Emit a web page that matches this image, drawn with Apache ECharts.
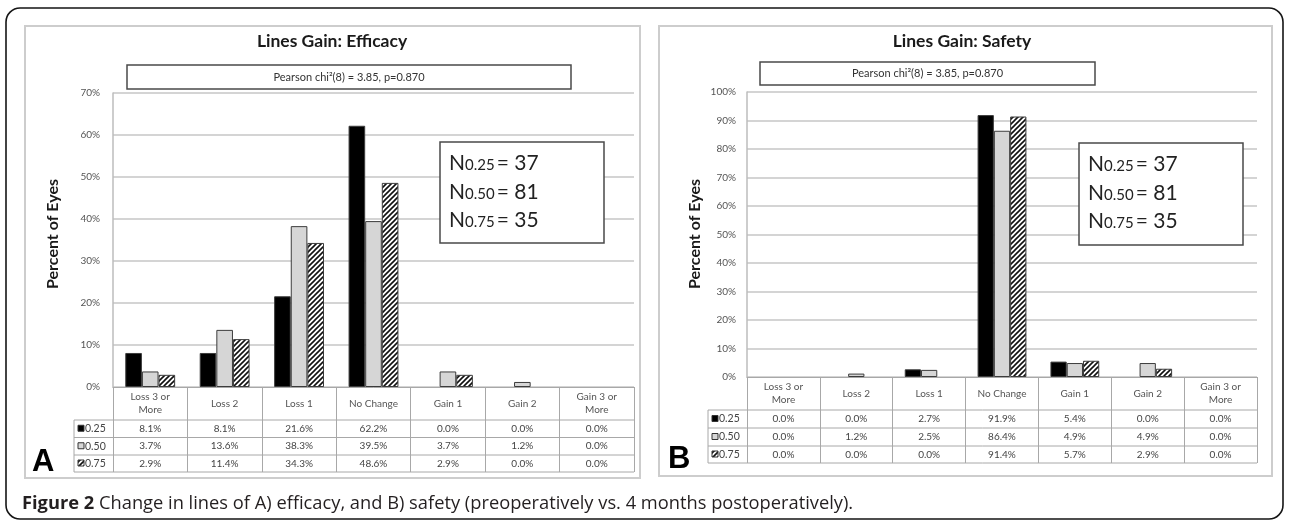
<!DOCTYPE html>
<html><head><meta charset="utf-8">
<script src="https://cdn.jsdelivr.net/npm/echarts@6/dist/echarts.min.js"></script>
<style>html,body{margin:0;padding:0;background:#fff;}#c{width:1289px;height:522px;}</style>
</head><body><div id="c"></div>
<script>
// ---------- data ----------
const categories = ['Loss 3 or\nMore', 'Loss 2', 'Loss 1', 'No Change', 'Gain 1', 'Gain 2', 'Gain 3 or\nMore'];
const groups = ['0.25', '0.50', '0.75'];
const efficacy025 = [8.1, 8.1, 21.6, 62.2, 0.0, 0.0, 0.0];
const efficacy050 = [3.7, 13.6, 38.3, 39.5, 3.7, 1.2, 0.0];
const efficacy075 = [2.9, 11.4, 34.3, 48.6, 2.9, 0.0, 0.0];
const safety025 = [0.0, 0.0, 2.7, 91.9, 5.4, 0.0, 0.0];
const safety050 = [0.0, 1.2, 2.5, 86.4, 4.9, 4.9, 0.0];
const safety075 = [0.0, 0.0, 0.0, 91.4, 5.7, 2.9, 0.0];
const efficacyAxisMax = 70;
const safetyAxisMax = 100;
const axisStep = 10;
const sampleSizes = [37, 81, 35];
const chartTitles = ['Lines Gain: Efficacy', 'Lines Gain: Safety'];
const statText = 'Pearson chi\u00b2(8) = 3.85, p=0.870';
const yAxisTitle = 'Percent of Eyes';
const panelLetters = ['A', 'B'];
const captionBold = 'Figure 2';
const captionText = ' Change in lines of A) efficacy, and B) safety (preoperatively vs. 4 months postoperatively).';

// ---------- layout ----------
const FONT = 'Lato, "Open Sans", sans-serif';
const CAPFONT = '"Open Sans", "Noto Sans", sans-serif';
const panels = [
  { grid: { left: 113, top: 93, width: 521, height: 294 }, box: [25, 26, 615, 452], titleX: 332,
    stat: [127, 65, 444, 24], nbox: [440, 142, 164, 101], rowLeft: 74, rows: [420, 437.5, 455, 472],
    yTitleX: 53, letter: [32, 447] },
  { grid: { left: 747, top: 92, width: 510, height: 285 }, box: [659, 26, 613, 450], titleX: 962,
    stat: [760, 62, 335, 23], nbox: [1079, 143, 164, 102], rowLeft: 708, rows: [410, 428, 446, 463],
    yTitleX: 695, letter: [668, 444] }
];
const datasets = [[efficacy025, efficacy050, efficacy075], [safety025, safety050, safety075]];
const maxes = [efficacyAxisMax, safetyAxisMax];

function hatchCanvas() {
  const s = 5, c = document.createElement('canvas');
  c.width = s; c.height = s;
  const g = c.getContext('2d');
  g.fillStyle = '#fff'; g.fillRect(0, 0, s, s);
  g.strokeStyle = '#111'; g.lineWidth = 1.6;
  g.beginPath();
  g.moveTo(-1, s + 1); g.lineTo(s + 1, -1);
  g.moveTo(-1, 1); g.lineTo(1, -1);
  g.moveTo(s - 1, s + 1); g.lineTo(s + 1, s - 1);
  g.stroke();
  return c;
}
const hatch = { image: hatchCanvas(), repeat: 'repeat' };
const fills = ['#000000', '#d6d6d6', hatch];

const chart = echarts.init(document.getElementById('c'), null, { renderer: 'canvas' });

const grids = [], xAxes = [], yAxes = [], series = [];
panels.forEach((p, k) => {
  grids.push(Object.assign({}, p.grid));
  const tickLen = p.rows[3] - (p.grid.top + p.grid.height);
  xAxes.push({
    gridIndex: k, type: 'category', data: categories,
    axisLine: { show: true, lineStyle: { color: '#a8a8a8', width: 1 } },
    axisTick: { show: true, interval: 0, length: tickLen, lineStyle: { color: '#a8a8a8', width: 1 } },
    axisLabel: { interval: 0, margin: 16.5, verticalAlign: 'middle', fontSize: 10, lineHeight: 13,
      color: '#555555', fontFamily: FONT },
    splitLine: { show: false }
  });
  yAxes.push({
    gridIndex: k, type: 'value', min: 0, max: maxes[k], interval: axisStep,
    axisLabel: { formatter: '{value}%', fontSize: 10, color: '#555555', margin: k === 0 ? 13 : 11, fontFamily: FONT },
    axisLine: { show: true, lineStyle: { color: '#bdbdbd', width: 1.5 } },
    axisTick: { show: false },
    splitLine: { show: true, lineStyle: { color: '#c6c6c6', width: 1.5 } }
  });
  datasets[k].forEach((vals, g) => {
    series.push({
      type: 'bar', name: groups[g], xAxisIndex: k, yAxisIndex: k,
      data: vals.map(v => v === 0 ? { value: v, itemStyle: { borderWidth: 0 } } : v),
      barGap: '0%', barCategoryGap: '33%', silent: true,
      itemStyle: { color: fills[g], borderColor: '#3c3c3c', borderWidth: 1 }
    });
  });
});

chart.setOption({
  animation: false,
  backgroundColor: '#ffffff',
  grid: grids, xAxis: xAxes, yAxis: yAxes, series: series
});

// ---------- annotation graphics ----------
const G = [];
// outer frame
G.push({ type: 'rect', shape: { x: 6, y: 8, width: 1277, height: 511, r: 14 },
  style: { fill: 'none', stroke: '#151515', lineWidth: 1.6 }, z: 1 });
panels.forEach((p, k) => {
  const gb = p.grid, right = gb.left + gb.width;
  G.push({ type: 'rect', shape: { x: p.box[0], y: p.box[1], width: p.box[2], height: p.box[3] },
    style: { fill: 'none', stroke: '#cdcdcd', lineWidth: 2 }, z: 1 });
  // title
  G.push({ type: 'text', x: p.titleX, y: 41, z: 10,
    style: { text: chartTitles[k], font: 'bold 17.5px ' + FONT, fill: '#1a1a1a', align: 'center', verticalAlign: 'middle' } });
  // stat box
  G.push({ type: 'rect', shape: { x: p.stat[0], y: p.stat[1], width: p.stat[2], height: p.stat[3] },
    style: { fill: '#fff', stroke: '#4a4a4a', lineWidth: 1.5 }, z: 10 });
  G.push({ type: 'text', x: p.stat[0] + p.stat[2] / 2, y: p.stat[1] + p.stat[3] / 2, z: 11,
    style: { text: statText, font: '11px ' + FONT, fill: '#333', align: 'center', verticalAlign: 'middle' } });
  // N box
  const nb = p.nbox;
  G.push({ type: 'rect', shape: { x: nb[0], y: nb[1], width: nb[2], height: nb[3] },
    style: { fill: '#fff', stroke: '#4a4a4a', lineWidth: 1.5 }, z: 10 });
  groups.forEach((gname, g) => {
    G.push({ type: 'text', x: nb[0] + 9, y: nb[1] + 20 + g * 28.5, z: 11,
      style: { text: '{n|N}{s|' + gname + '}{n|= ' + sampleSizes[g] + '}', align: 'left', verticalAlign: 'middle',
        rich: { n: { fontSize: 21, fontFamily: FONT, fill: '#222', verticalAlign: 'bottom', lineHeight: 24 },
                s: { fontSize: 15, fontFamily: FONT, fill: '#222', verticalAlign: 'bottom', lineHeight: 20, padding: [0, 2, 1, 0] } } } });
  });
  // y axis title
  G.push({ type: 'text', x: p.yTitleX, y: 234, rotation: Math.PI / 2, z: 10,
    style: { text: yAxisTitle, font: 'bold 16px ' + FONT, fill: '#1a1a1a', align: 'center', verticalAlign: 'middle' } });
  // table lines
  p.rows.forEach(y => {
    G.push({ type: 'line', shape: { x1: p.rowLeft, y1: y, x2: right, y2: y }, style: { stroke: '#a8a8a8', lineWidth: 1 }, z: 5 });
  });
  G.push({ type: 'line', shape: { x1: p.rowLeft, y1: p.rows[0], x2: p.rowLeft, y2: p.rows[3] }, style: { stroke: '#a8a8a8', lineWidth: 1 }, z: 5 });
  // row labels + values
  groups.forEach((gname, g) => {
    const yc = (p.rows[g] + p.rows[g + 1]) / 2;
    G.push({ type: 'rect', shape: { x: p.rowLeft + 4, y: yc - 3.5, width: 6, height: 6 },
      style: { fill: fills[g], stroke: '#333', lineWidth: 1 }, z: 6 });
    G.push({ type: 'text', x: p.rowLeft + 11, y: yc, z: 6,
      style: { text: gname, font: '10.5px ' + FONT, fill: '#444', align: 'left', verticalAlign: 'middle' } });
    datasets[k][g].forEach((v, i) => {
      const x = chart.convertToPixel({ xAxisIndex: k }, i);
      G.push({ type: 'text', x: x, y: yc, z: 6,
        style: { text: v.toFixed(1) + '%', font: '10px ' + FONT, fill: '#444', align: 'center', verticalAlign: 'middle' } });
    });
  });
  // panel letter
  G.push({ type: 'text', x: p.letter[0], y: p.letter[1], z: 10,
    style: { text: panelLetters[k], font: 'bold 31px "Liberation Sans", Arial, sans-serif', fill: '#000', align: 'left', verticalAlign: 'top' } });
});
// caption
G.push({ type: 'text', x: 22, y: 504, z: 10,
  style: { text: '{b|' + captionBold + '}{r|' + captionText + '}', align: 'left', verticalAlign: 'middle',
    rich: { b: { font: 'bold 18.3px ' + CAPFONT, fill: '#231f20' }, r: { font: '18.3px ' + CAPFONT, fill: '#231f20' } } } });

chart.setOption({ graphic: { elements: G } });
</script></body></html>
